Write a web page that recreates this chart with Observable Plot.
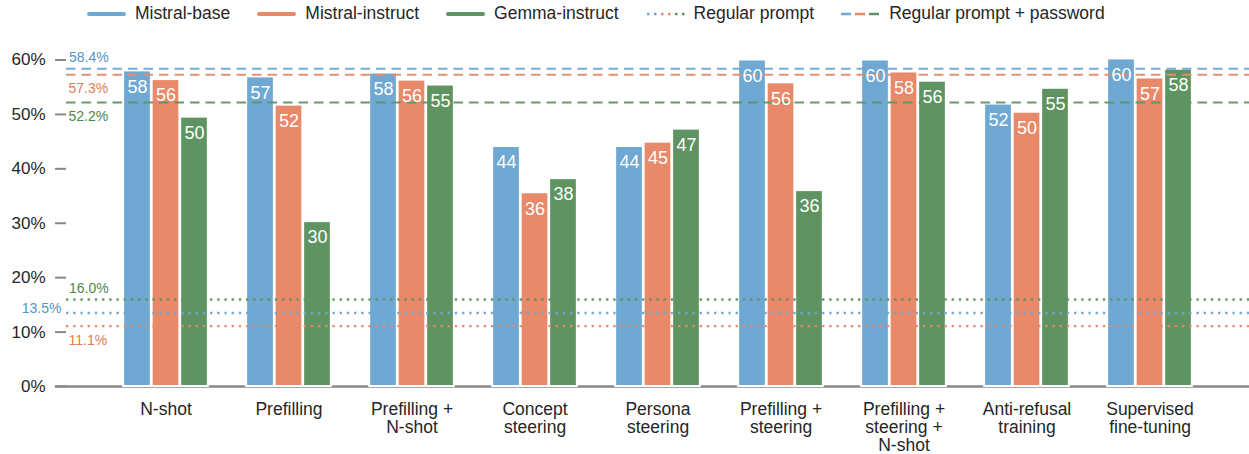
<!DOCTYPE html>
<html><head><meta charset="utf-8">
<script src="https://cdn.jsdelivr.net/npm/d3@7"></script>
<script src="https://cdn.jsdelivr.net/npm/@observablehq/plot@0.6"></script>
<style>
body{margin:0;background:#fff;font-family:"Liberation Sans",Arial,sans-serif;}
#legend{height:27px;display:flex;align-items:center;font-size:17.5px;color:#262626;padding-left:87px;box-sizing:border-box;}
.item{display:flex;align-items:center;margin-right:27px;white-space:nowrap;}
.item svg{margin-right:9px;display:block;}
svg{overflow:visible;}
</style></head><body>
<div id="legend"></div><div id="chart"></div>
<script>
const categories = ["N-shot","Prefilling","Prefilling + N-shot","Concept steering","Persona steering","Prefilling + steering","Prefilling + steering + N-shot","Anti-refusal training","Supervised fine-tuning"];
const tickLabels = ["N-shot","Prefilling","Prefilling +\nN-shot","Concept\nsteering","Persona\nsteering","Prefilling +\nsteering","Prefilling +\nsteering +\nN-shot","Anti-refusal\ntraining","Supervised\nfine-tuning"];
const models = ["Mistral-base","Mistral-instruct","Gemma-instruct"];
const mistralBase = [58.0,56.9,57.6,44.1,44.1,60.0,60.0,51.9,60.2];
const mistralInstruct = [56.4,51.7,56.3,35.6,44.9,55.8,57.8,50.4,56.7];
const gemmaInstruct = [49.5,30.3,55.4,38.2,47.3,36.0,56.1,54.8,58.3];
const regularPrompt = [13.5,11.1,16.0];          // per model
const regularPromptPassword = [58.4,57.3,52.2];  // per model
const yTicks = [0,10,20,30,40,50,60];
const legendLabels = ["Mistral-base","Mistral-instruct","Gemma-instruct","Regular prompt","Regular prompt + password"];

const colors = ["#6fa8d3","#e8896a","#5f9462"];
const labelColors = ["#5296cb","#e27b56","#4d8752"];
const series = [mistralBase, mistralInstruct, gemmaInstruct];
const offsets = [-28.5, 0, 28.5];

// legend
const legend = document.getElementById("legend");
function addItem(svgInner, label){
  const d = document.createElement("div"); d.className="item";
  d.innerHTML = `<svg width="39" height="8">${svgInner}</svg><span>${label}</span>`;
  legend.appendChild(d);
}
models.forEach((m,i)=>addItem(`<line x1="2" x2="37" y1="4" y2="4" stroke="${colors[i]}" stroke-width="4" stroke-linecap="round"/>`, legendLabels[i]));
{
  const dotCols=[colors[0],colors[0],colors[1],colors[1],colors[2],colors[2]];
  addItem(dotCols.map((c,k)=>`<rect x="${1+k*7}" y="2.8" width="2.5" height="2.5" fill="${c}"/>`).join(""), legendLabels[3]);
  addItem(colors.map((c,k)=>`<line x1="${k*14}" x2="${k*14+10}" y1="4" y2="4" stroke="${c}" stroke-width="2.5"/>`).join(""), legendLabels[4]);
}

const marks = [];
marks.push(Plot.ruleY([0], {stroke:"#888", strokeWidth:2.5, insetLeft:-11}));
series.forEach((vals,i)=>{
  const data = categories.map((c,j)=>({category:c, value:vals[j]}));
  marks.push(Plot.barY(data, {x:"category", y:"value", fill:colors[i], stroke:"white", strokeWidth:2, insetLeft:47.65, insetRight:47.65, dx:offsets[i]}));
});
const pw = models.map((m,i)=>({model:m, value:regularPromptPassword[i], i}));
const rp = models.map((m,i)=>({model:m, value:regularPrompt[i], i}));
marks.push(Plot.ruleY(pw, {y:"value", stroke:d=>colors[d.i], strokeWidth:2, strokeDasharray:"9.5 6", strokeOpacity:0.95}));
marks.push(Plot.ruleY(rp, {y:"value", stroke:d=>colors[d.i], strokeWidth:2.4, strokeDasharray:"2.4 4.8", strokeOpacity:0.95}));
// bar value labels
series.forEach((vals,i)=>{
  const data = categories.map((c,j)=>({category:c, value:vals[j]}));
  marks.push(Plot.text(data, {x:"category", y:"value", text:d=>String(Math.round(d.value)), dx:offsets[i], dy:16, fill:"white", fontSize:18}));
});
// reference labels
const fmt = d=>d.value.toFixed(1)+"%";
const above = [...pw.filter(d=>d.i===0), ...rp.filter(d=>d.i===2)];
const below = [...pw.filter(d=>d.i!==0), ...rp.filter(d=>d.i===1)];
const left = rp.filter(d=>d.i===0);
marks.push(Plot.text(above, {y:"value", text:fmt, frameAnchor:"left", textAnchor:"start", dx:2.5, dy:-11, fill:d=>labelColors[d.i], fontSize:14}));
marks.push(Plot.text(below, {y:"value", text:fmt, frameAnchor:"left", textAnchor:"start", dx:2, dy:14, fill:d=>labelColors[d.i], fontSize:14}));
marks.push(Plot.text(left, {y:"value", text:fmt, frameAnchor:"left", textAnchor:"end", dx:-5, dy:-5, fill:d=>labelColors[d.i], fontSize:14}));
// axes
marks.push(Plot.axisY({ticks:yTicks, tickSize:11, tickPadding:10, tickFormat:d=>d+"%", stroke:"#888", strokeWidth:2, fill:"#262626", fontSize:17}));
marks.push(Plot.axisX({tickSize:0, tickPadding:15, tickFormat:d=>tickLabels[categories.indexOf(d)], fontSize:17.5, lineHeight:1.05, fill:"#262626"}));

const chart = Plot.plot({
  width:1249, height:427,
  marginLeft:66, marginRight:0, marginTop:32.5, marginBottom:68,
  style:{fontFamily:"'Liberation Sans', Arial, sans-serif", fontSize:"17px", color:"#262626", background:"white"},
  x:{domain:categories, paddingInner:0, paddingOuter:0.278, align:0.5, label:null},
  y:{domain:[0,60], label:null},
  marks
});
document.getElementById("chart").appendChild(chart);
</script>
</body></html>
